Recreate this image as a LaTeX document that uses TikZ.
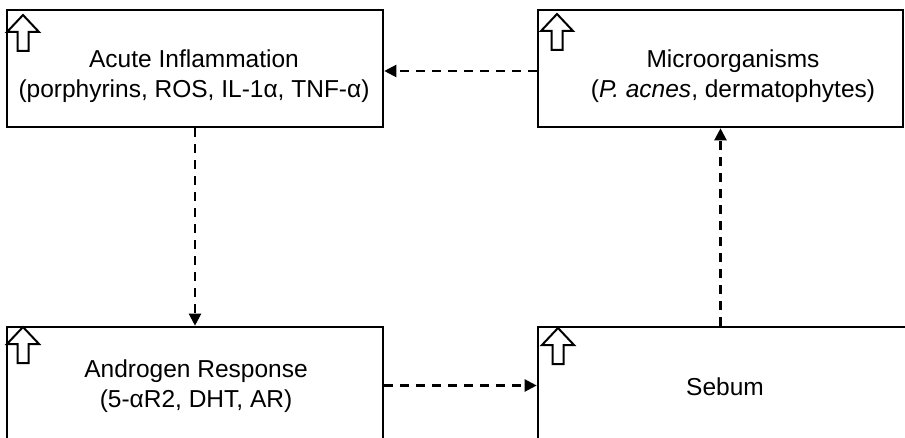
\documentclass[tikz,border=0pt]{standalone}
\usepackage{fontspec}
\setmainfont{Liberation Sans}
\usetikzlibrary{arrows.meta}
\tikzset{
  box/.style={draw=black, line width=2.6pt, fill=white, inner sep=0pt},
  lbl/.style={align=center, inner sep=0pt, font=\fontsize{24.5}{29.5}\selectfont},
  flow/.style={line width=2.2pt, dash pattern=on 9pt off 7pt,
    -{Triangle[length=12pt,width=12pt]}},
  upicon/.style={draw=black, line width=2pt, fill=white, line join=miter}
}
% open "up" arrow drawn with its tip at the given point
\newcommand{\upmark}[1]{%
  \draw[upicon] (#1) -- ++(16,17) -- ++(-10.5,0) -- ++(0,19) -- ++(-11,0)
    -- ++(0,-19) -- ++(-10.5,0) -- cycle;}
\begin{document}
\begin{tikzpicture}[x=1pt,y=-1pt]
\useasboundingbox (0,0) rectangle (905,438);

% boxes
\node[box, minimum width=376pt, minimum height=117pt] (infl)  at (195,68.5) {};
\node[box, minimum width=365pt, minimum height=117pt] (micro) at (720.5,68.5) {};
\node[box, minimum width=376pt, minimum height=117pt] (andr)  at (195,385.5) {};
\node[box, minimum width=392pt, minimum height=117pt] (sebum) at (734,385.5) {};

% labels
\node[lbl] (infl-t)  at (194,76) {Acute Inflammation\\(porphyrins, ROS, IL-1α, TNF-α)};
\node[lbl] (micro-t) at (733,76) {Microorganisms\\(\textit{P. acnes}, dermatophytes)};
\node[lbl] (andr-t)  at (196,386) {Androgen Response\\(5-αR2, DHT, AR)};
\node[lbl] (sebum-t) at (725,387) {Sebum};

% corner icons
\coordinate (i1) at (23,15);
\coordinate (i2) at (557,14);
\coordinate (i3) at (23,327);
\coordinate (i4) at (558,328);
\upmark{i1}
\upmark{i2}
\upmark{i3}
\upmark{i4}

% cycle connectors
\draw[flow] ([yshift=-2.5pt]micro.west) -- ([yshift=-2.5pt]infl.east);
\draw[flow] (infl.south) -- (andr.north);
\draw[flow] (andr.east) -- (andr.east -| sebum.west);
\draw[flow] (micro.south |- sebum.north) -- (micro.south);
\end{tikzpicture}
\end{document}
